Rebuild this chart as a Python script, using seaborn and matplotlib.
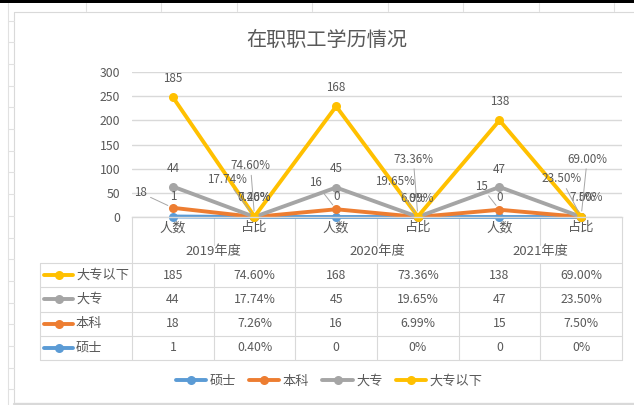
import numpy as np
import pandas as pd
import matplotlib
matplotlib.use("Agg")
import matplotlib.pyplot as plt
import seaborn as sns
from matplotlib.lines import Line2D
from matplotlib.patches import Rectangle

# 数据
years = ["2019年度", "2020年度", "2021年度"]
metrics = ["人数", "占比"]
series = ["硕士", "本科", "大专", "大专以下"]
colors = ["#5B9BD5", "#ED7D31", "#A5A5A5", "#FFC000"]

count_master = [1, 0, 0]
count_bachelor = [18, 16, 15]
count_college = [44, 45, 47]
count_below = [185, 168, 138]

share_master = [0.0040, 0.0, 0.0]
share_bachelor = [0.0726, 0.0699, 0.0750]
share_college = [0.1774, 0.1965, 0.2350]
share_below = [0.7460, 0.7336, 0.6900]


def pct(v):
    return "0%" if v == 0 else f"{v * 100:.2f}%"


counts = [count_master, count_bachelor, count_college, count_below]
shares = [share_master, share_bachelor, share_college, share_below]

rows = []
for s, c, p in zip(series, counts, shares):
    for yi in range(len(years)):
        rows.append(dict(series=s, pos=2 * yi, value=c[yi], label=str(c[yi])))
        rows.append(dict(series=s, pos=2 * yi + 1, value=p[yi], label=pct(p[yi])))
df = pd.DataFrame(rows)
# Excel 堆积折线图：按类别累加
df["stacked"] = df.groupby("pos")["value"].cumsum()

# 数据标签偏移 (像素): dx, dy, 是否有引导线
label_offsets = {
    ("大专以下", 0): (0, 19, False), ("大专", 0): (0, 18, False),
    ("本科", 0): (-32, 15, True), ("硕士", 0): (0, 20, False),
    ("大专以下", 1): (-4, 51, True), ("大专", 1): (-28, 37, True),
    ("本科", 1): (0, 19, False), ("硕士", 1): (0, 19, False),
    ("大专以下", 2): (0, 19, False), ("大专", 2): (0, 19, False),
    ("本科", 2): (-21, 27, True), ("硕士", 2): (0, 20, False),
    ("大专以下", 3): (-4.5, 57.5, True), ("大专", 3): (-23, 35, True),
    ("本科", 3): (-1, 18.5, False), ("硕士", 3): (-1, 18.5, False),
    ("大专以下", 4): (0, 19, False), ("大专", 4): (0, 18, False),
    ("本科", 4): (-18.5, 23.7, True), ("硕士", 4): (0, 19, False),
    ("大专以下", 5): (6, 57.5, True), ("大专", 5): (-20, 38, True),
    ("本科", 5): (5.5, 19, False), ("硕士", 5): (5.5, 19, False),
}

sns.set_style("white")
plt.rcParams["font.family"] = ["Noto Sans CJK SC", "DejaVu Sans"]
plt.rcParams["axes.unicode_minus"] = False

TXT = "#595959"
GRID = "#D9D9D9"
W, H = 634, 405
fs = 9.5      # 中文
fs_num = 8.8  # 表格数字 / 刻度
fs_lab = 8.4  # 数据标签

fig = plt.figure(figsize=(W / 100, H / 100), dpi=100)

# 背景 (像素坐标)
bg = fig.add_axes([0, 0, 1, 1])
bg.set_xlim(0, W)
bg.set_ylim(H, 0)
bg.axis("off")
sheet = "#E1E1E1"
bg.plot([8, 8], [3, H], color=sheet, lw=0.8)
for y in np.arange(20.5, H, 21.7):
    bg.plot([8, 14], [y, y], color=sheet, lw=0.8)
for x in np.arange(85.5, W, 75.5):
    bg.plot([x, x], [3, 11], color=sheet, lw=0.8)
bg.add_patch(Rectangle((0, 0), W, 2.5, color="black", lw=0))
bg.add_patch(Rectangle((14, 11.5), W + 10, 391, fill=False, ec=GRID, lw=0.8))
bg.plot([14, W], [403.5, 403.5], color=GRID, lw=1.6)

# 主图
x0, x1, ytop, ybot = 132, 622, 72, 217
ax = fig.add_axes([x0 / W, 1 - ybot / H, (x1 - x0) / W, (ybot - ytop) / H])
ax.set_facecolor("none")
sns.lineplot(data=df, x="pos", y="stacked", hue="series", hue_order=series,
             palette=colors, marker="o", markersize=6.5, markeredgewidth=0,
             linewidth=2.8, legend=False, sort=True, ax=ax)
for ln in ax.lines:
    ln.set_clip_on(False)

ax.set_xlim(-0.5, 5.5)
ax.set_ylim(0, 300)
ax.set_yticks(range(0, 301, 50))
ax.set_xticks(range(6))
ax.set_xticklabels(metrics * len(years))
ax.yaxis.grid(True, color=GRID, lw=1)
ax.xaxis.grid(False)
for side in ["top", "right", "left"]:
    ax.spines[side].set_visible(False)
ax.spines["bottom"].set_color(GRID)
ax.spines["bottom"].set_linewidth(1)
ax.tick_params(axis="y", length=0, pad=8.5, labelsize=fs_num, labelcolor=TXT)
ax.tick_params(axis="x", length=0, pad=3, labelsize=fs, labelcolor=TXT)
ax.set_xlabel("")
ax.set_ylabel("")

for _, r in df.iterrows():
    dx, dy, lead = label_offsets[(r["series"], r["pos"])]
    arrow = dict(arrowstyle="-", color="#A6A6A6", lw=0.7, shrinkA=0, shrinkB=4) if lead else None
    ax.annotate(r["label"], xy=(r["pos"], r["stacked"]), xytext=(dx, dy),
                textcoords="offset pixels", ha="center", va="center",
                fontsize=fs_lab, color=TXT, arrowprops=arrow, annotation_clip=False)

# 标题
bg.text(327, 41, "在职职工学历情况", ha="center", va="center", fontsize=14.5, color=TXT)

# 数据表
cw = (x1 - x0) / 6
colx = [x0 + cw * k for k in range(7)]
y_year, y_tab = 245, 263
rh = 24.25
row_y = [y_tab + rh * k for k in range(5)]
tl = dict(color=GRID, lw=0.8)
bg.plot([x0, x0], [ybot, row_y[-1]], **tl)
for k in range(1, 7):
    if k % 2 == 0:
        bg.plot([colx[k], colx[k]], [ybot, row_y[-1]], **tl)
    else:
        bg.plot([colx[k], colx[k]], [ybot, y_year], **tl)
        bg.plot([colx[k], colx[k]], [y_tab, row_y[-1]], **tl)
bg.plot([40, 40], [y_tab, row_y[-1]], **tl)
for y in row_y:
    bg.plot([40, x1], [y, y], **tl)
for i, yr in enumerate(years):
    bg.text((colx[2 * i] + colx[2 * i + 2]) / 2, 252, yr, ha="center", va="center",
            fontsize=fs, color=TXT)

for j, (s, c, p, col) in enumerate(zip(series[::-1], counts[::-1], shares[::-1], colors[::-1])):
    yc = row_y[j] + rh / 2
    bg.plot([44, 73], [yc, yc], color=col, lw=2.8)
    bg.plot([58.5], [yc], "o", color=col, ms=6.5, mew=0)
    bg.text(76, yc, s, ha="left", va="center", fontsize=fs, color=TXT)
    for i in range(len(years)):
        bg.text(colx[2 * i] + cw / 2, yc, str(c[i]), ha="center", va="center", fontsize=fs_num, color=TXT)
        bg.text(colx[2 * i + 1] + cw / 2, yc, pct(p[i]), ha="center", va="center", fontsize=fs_num, color=TXT)

# 图例
handles = [Line2D([], [], color=c, lw=2.8, marker="o", ms=6.5, mew=0) for c in colors]
fig.legend(handles, series, loc="center", bbox_to_anchor=(329 / W, 1 - 381 / H), ncol=4,
           frameon=False, fontsize=fs, handlelength=2.3, handletextpad=0.25,
           columnspacing=1.0, labelcolor=TXT)

fig.savefig("out.png", dpi=100)
